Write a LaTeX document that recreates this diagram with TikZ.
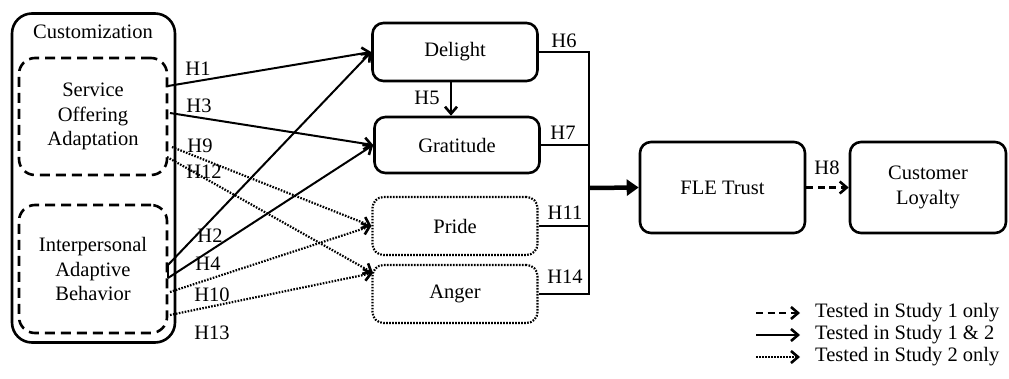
\documentclass[tikz,border=0pt]{standalone}
\usepackage{fontspec}
\setmainfont{Liberation Serif}
\usetikzlibrary{arrows.meta}
\begin{document}
\begin{tikzpicture}[x=1pt,y=-1pt,
  every node/.style={font=\fontsize{20.5}{24.5}\selectfont, inner sep=0pt},
  box/.style={draw, line width=2.6pt, rounded corners=11pt, align=center},
  outerbox/.style={draw, line width=2.6pt, rounded corners=20pt},
  dashbox/.style={draw, line width=2.6pt, rounded corners=16pt, dash pattern=on 10pt off 6pt, align=center},
  dotbox/.style={draw, line width=2.2pt, rounded corners=11pt, dash pattern=on 1.6pt off 1.4pt, align=center},
  tip/.style={-{Straight Barb[length=7pt,width=12pt,line width=2.6pt]}},
  solidarr/.style={tip, line width=2pt},
  dotarr/.style={tip, line width=2.2pt, dash pattern=on 1.6pt off 1.4pt},
  dasharr/.style={tip, line width=2.4pt, dash pattern=on 7pt off 4.5pt},
  busline/.style={line width=2.4pt},
  hyp/.style={anchor=center}
]
\useasboundingbox (0,0) rectangle (1009,378);

% customization block
\node[outerbox, minimum width=163pt, minimum height=329pt] (cust) at (93.5,178) {};
\node (custlab) at (93,32) {Customization};
\node[dashbox, minimum width=148pt, minimum height=117pt] (soa) at (93,116.5) {Service\\Offering\\Adaptation};
\node[dashbox, minimum width=148pt, minimum height=128pt] (iab) at (93,269) {Interpersonal\\Adaptive\\Behavior};

% emotions
\node[box, minimum width=165pt, minimum height=58pt] (del) at (455,52) {Delight};
\node[box, minimum width=165pt, minimum height=56pt] (gra) at (457,145) {Gratitude};
\node[dotbox, minimum width=165pt, minimum height=58pt] (pri) at (455,226) {Pride};
\node[dotbox, minimum width=165pt, minimum height=58pt] (ang) at (455,294) {Anger};

% outcomes
\node[box, minimum width=165pt, minimum height=91pt] (fle) at (722.5,187.5) {FLE Trust};
\node[box, minimum width=156pt, minimum height=91pt] (loy) at (928,187.5) {Customer\\Loyalty};

% start points of the paths from customization
\coordinate (s1) at (168,86);
\coordinate (s3) at (170,113);
\coordinate (s9) at (172,147);
\coordinate (s12) at (167,157);
\coordinate (s2) at (168,265);
\coordinate (s4) at (168,278);
\coordinate (s10) at (170,292);
\coordinate (s13) at (170,315);
\coordinate (angin) at (373,273);

\draw[solidarr] (s1) -- (del.west);
\draw[solidarr] (s3) -- (gra.west);
\draw[dotarr] (s9) -- (pri.west);
\draw[dotarr] (s12) -- (angin);
\draw[solidarr] (s2) -- (del.west);
\draw[solidarr] (s4) -- (gra.west);
\draw[line width=2pt] (s2) -- (s4);
\draw[dotarr] (s10) -- (pri.west);
\draw[dotarr] (s13) -- (angin);

\node[hyp] (h1) at (198,69) {H1};
\node[hyp] (h3) at (199,106) {H3};
\node[hyp] (h9) at (200,146) {H9};
\node[hyp] (h12) at (204,172) {H12};
\node[hyp] (h2) at (210,236) {H2};
\node[hyp] (h4) at (208,264) {H4};
\node[hyp] (h10) at (212,295) {H10};
\node[hyp] (h13) at (212,333) {H13};

% delight to gratitude
\draw[solidarr] (del.south -| 451,0) -- (gra.north -| 451,0);
\node[hyp] (h5) at (427,98) {H5};

% collecting bus into FLE trust
\coordinate (bus) at (589,188);
\draw[busline] (del.east) -- (del.east -| bus) -- (ang.east -| bus) -- (ang.east);
\draw[busline] (gra.east) -- (gra.east -| bus);
\draw[busline] (pri.east) -- (pri.east -| bus);
\draw[line width=4.5pt, -{Triangle[length=12pt,width=16pt]}] (bus) -- (fle.west);
\node[hyp] (h6) at (564,41) {H6};
\node[hyp] (h7) at (563,133) {H7};
\node[hyp] (h11) at (565,213) {H11};
\node[hyp] (h14) at (565,277) {H14};

% trust to loyalty
\draw[dasharr] (fle.east) -- (loy.west);
\node[hyp] (h8) at (827,168) {H8};

% legend
\coordinate (la) at (756,313);
\coordinate (lb) at (800,313);
\coordinate (lc) at (756,335);
\coordinate (ld) at (800,335);
\coordinate (le) at (756,357);
\coordinate (lf) at (800,357);
\draw[dasharr] (la) -- (lb);
\draw[solidarr] (lc) -- (ld);
\draw[dotarr] (le) -- (lf);
\node[anchor=west] (t1) at (815,313) {Tested in Study 1 only};
\node[anchor=west] (t2) at (815,335) {Tested in Study 1 \& 2};
\node[anchor=west] (t3) at (815,357) {Tested in Study 2 only};
\end{tikzpicture}
\end{document}
